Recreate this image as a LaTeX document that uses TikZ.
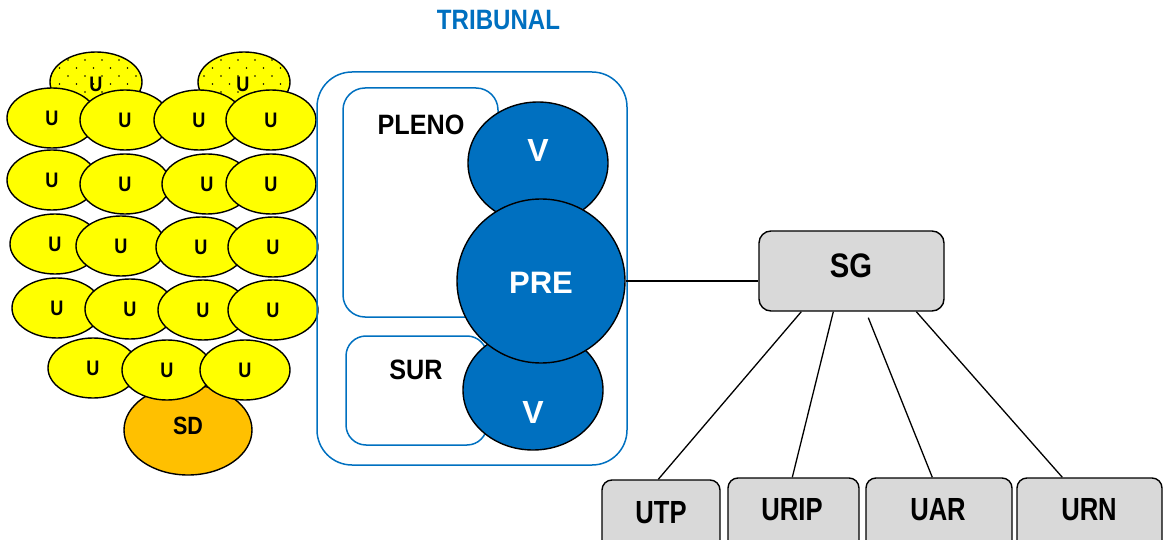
\documentclass[tikz,border=0pt]{standalone}
\usepackage{fontspec}
\setmainfont{Liberation Sans}
\newfontfamily\fS{Liberation Sans}[FakeStretch=0.86]
\newfontfamily\fP{Liberation Sans}[FakeStretch=0.9]
\newfontfamily\fB{Liberation Sans}[FakeStretch=0.8]
\usetikzlibrary{shapes.geometric,patterns,calc}
\definecolor{tblue}{HTML}{0070C0}
\definecolor{uyel}{HTML}{FFFF00}
\definecolor{sdor}{HTML}{FFC000}
\definecolor{boxg}{HTML}{D9D9D9}
\pgfdeclarepatternformonly{sparsedots}{\pgfpoint{-1pt}{-1pt}}{\pgfpoint{18pt}{17pt}}{\pgfpoint{17pt}{16pt}}{%
  \pgfpathcircle{\pgfpoint{0pt}{0pt}}{0.9pt}%
  \pgfpathcircle{\pgfpoint{8.5pt}{8pt}}{0.9pt}%
  \pgfusepath{fill}}
\begin{document}
\begin{tikzpicture}[x=1pt,y=-1pt,
  uell/.style={ellipse, draw=black, line width=1.4pt, fill=uyel, minimum width=90pt, minimum height=60pt, inner sep=0pt,
     font=\fontsize{21}{21}\fS\bfseries},
  dell/.style={ellipse, draw=black, line width=1.4pt, preaction={fill=uyel}, pattern=sparsedots, pattern color=black,
     minimum width=92pt, minimum height=60pt, inner sep=0pt},
  sdell/.style={ellipse, draw=black, line width=1.4pt, fill=sdor, minimum width=128pt, minimum height=90pt, inner sep=0pt,
     font=\fontsize{25}{25}\fS\bfseries},
  bluebox/.style={draw=tblue, line width=1.5pt, inner sep=0pt},
  bcirc/.style={ellipse, draw=black, line width=1.4pt, fill=tblue, inner sep=0pt},
  wlab/.style={inner sep=0pt, text=white, font=\fontsize{32}{32}\selectfont\bfseries},
  klab/.style={inner sep=0pt, font=\fontsize{28}{28}\fP\bfseries},
  gbox/.style={draw=black, line width=1.4pt, fill=boxg, inner sep=0pt},
  blab/.style={inner sep=0pt, font=\fontsize{32}{32}\fB\bfseries},
  conn/.style={draw=black, line width=1.3pt}
]
\useasboundingbox (0,0) rectangle (1165,540);
\clip (0,0) rectangle (1165,540);

% title
\node (title) [inner sep=0pt, text=tblue, font=\fontsize{28}{28}\fS\bfseries] at (498.5,20) {TRIBUNAL};

% dotted ellipses (behind)
\node (d1) [dell] at (96,82) {};
\node (d2) [dell] at (244,82) {};
\node (d1t) [inner sep=0pt, font=\fontsize{21}{21}\fS\bfseries] at (96,84) {U};
\node (d2t) [inner sep=0pt, font=\fontsize{21}{21}\fS\bfseries] at (243,84) {U};

% rows of U
\node (u11) [uell] at (52,118) {U};
\node (u12) [uell] at (125,120) {U};
\node (u13) [uell] at (199,120) {U};
\node (u14) [uell] at (271,120) {U};

\node (u21) [uell] at (52,180) {U};
\node (u22) [uell] at (125,184) {U};
\node (u23) [uell] at (207,184) {U};
\node (u24) [uell] at (271,184) {U};

\node (u31) [uell] at (55,244) {U};
\node (u32) [uell] at (121,246) {U};
\node (u33) [uell] at (201,247) {U};
\node (u34) [uell] at (273,247) {U};

\node (u41) [uell] at (57,308) {U};
\node (u42) [uell] at (130,309) {U};
\node (u43) [uell] at (203,310) {U};
\node (u44) [uell] at (273,310) {U};

\node (sd) [sdell] at (188,430) {};
\node (sdt) [inner sep=0pt, font=\fontsize{25}{25}\fS\bfseries] at (188,426) {SD};

\node (u51) [uell] at (93,368) {U};
\node (u52) [uell] at (167,370) {U};
\node (u53) [uell] at (245,370) {U};

% tribunal boxes
\node (trib) [bluebox, rounded corners=35pt, minimum width=310pt, minimum height=393pt] at (472,268.5) {};
\node (pleno) [bluebox, rounded corners=22pt, minimum width=155pt, minimum height=229pt] at (420.5,202.5) {};
\node (sur) [bluebox, rounded corners=20pt, minimum width=141pt, minimum height=109pt] at (416.5,390.5) {};
\node (plenot) [klab] at (421,125) {PLENO};
\node (surt) [klab] at (416,370) {SUR};

% blue circles
\node (v1) [bcirc, minimum width=140pt, minimum height=122pt] at (538,163) {};
\node (v2) [bcirc, minimum width=140pt, minimum height=120pt] at (533,390) {};
\node (pre) [bcirc, minimum width=168pt, minimum height=164pt] at (541,281) {};
\node (v1t) [wlab] at (538,150) {V};
\node (v2t) [wlab] at (533,412) {V};
\node (pret) [wlab, font=\fontsize{31}{31}\selectfont\bfseries] at (541,283) {PRE};

% SG and units
\node (sg) [gbox, rounded corners=12pt, minimum width=185pt, minimum height=80pt] at (851.5,271) {};
\node (sgt) [inner sep=0pt, font=\fontsize{34}{34}\fS\bfseries] at (851,266) {SG};

\node (utp) [gbox, rounded corners=10pt, minimum width=118pt, minimum height=80pt] at (661,520) {};
\node (urip) [gbox, rounded corners=10pt, minimum width=131pt, minimum height=82pt] at (793.5,519) {};
\node (uar) [gbox, rounded corners=10pt, minimum width=146pt, minimum height=82pt] at (939,519) {};
\node (urn) [gbox, rounded corners=10pt, minimum width=145pt, minimum height=82pt] at (1089.5,519) {};
\node (utpt) [blab] at (661,513) {UTP};
\node (uript) [blab] at (792,510) {URIP};
\node (uart) [blab] at (938,510) {UAR};
\node (urnt) [blab] at (1089,510) {URN};

% connectors
\draw[conn] (pre.east) -- (pre.east -| sg.west);
\coordinate (gap3) at ($(sg.south west)+(110,6)$);
\draw[conn] ($(sg.south west)+(43,0)$) -- ($(utp.north west)+(57,0)$);
\draw[conn] ($(sg.south west)+(75,0)$) -- ($(urip.north west)+(65,0)$);
\draw[conn] (gap3) -- ($(uar.north west)+(67,0)$);
\draw[conn] ($(sg.south west)+(158,0)$) -- ($(urn.north west)+(46,0)$);
\end{tikzpicture}
\end{document}
